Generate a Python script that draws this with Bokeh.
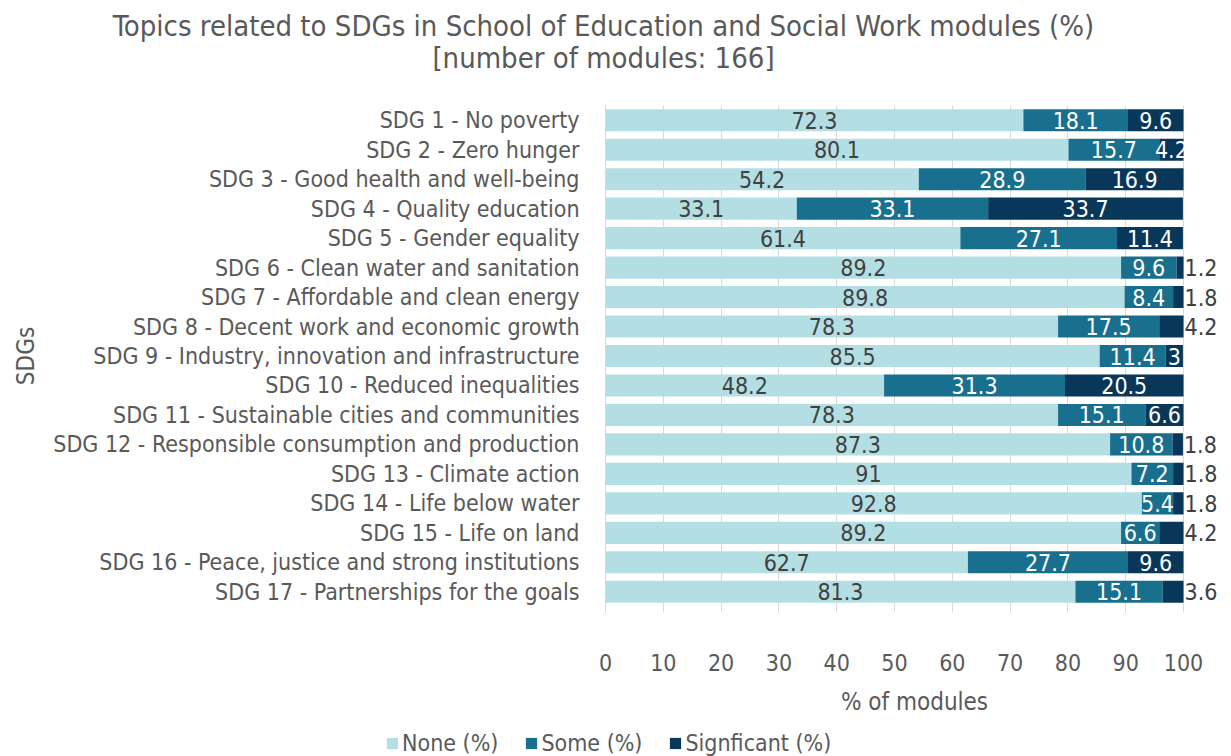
from bokeh.plotting import figure
from bokeh.layouts import column
from bokeh.models import (ColumnDataSource, FactorRange, Range1d, FixedTicker, Legend,
                          LegendItem)
from bokeh.core.properties import value
from bokeh.embed import file_html
from bokeh.resources import INLINE

categories = [
    "SDG 1 - No poverty",
    "SDG 2 - Zero hunger",
    "SDG 3 - Good health and well-being",
    "SDG 4 - Quality education",
    "SDG 5 - Gender equality",
    "SDG 6 - Clean water and sanitation",
    "SDG 7 - Affordable and clean energy",
    "SDG 8 - Decent work and economic growth",
    "SDG 9 - Industry, innovation and infrastructure",
    "SDG 10 - Reduced inequalities",
    "SDG 11 - Sustainable cities and communities",
    "SDG 12 - Responsible consumption and production",
    "SDG 13 - Climate action",
    "SDG 14 - Life below water",
    "SDG 15 - Life on land",
    "SDG 16 - Peace, justice and strong institutions",
    "SDG 17 - Partnerships for the goals",
]
none_pct = [72.3, 80.1, 54.2, 33.1, 61.4, 89.2, 89.8, 78.3, 85.5, 48.2, 78.3, 87.3, 91, 92.8, 89.2, 62.7, 81.3]
some_pct = [18.1, 15.7, 28.9, 33.1, 27.1, 9.6, 8.4, 17.5, 11.4, 31.3, 15.1, 10.8, 7.2, 5.4, 6.6, 27.7, 15.1]
sig_pct = [9.6, 4.2, 16.9, 33.7, 11.4, 1.2, 1.8, 4.2, 3, 20.5, 6.6, 1.8, 1.8, 1.8, 4.2, 9.6, 3.6]
sig_label_outside = [False, False, False, False, False, True, True, True, False, False,
                     False, True, True, True, True, False, True]
series_names = ["None (%)", "Some (%)", "Signficant (%)"]
x_ticks = [0, 10, 20, 30, 40, 50, 60, 70, 80, 90, 100]
title_lines = ["Topics related to SDGs in School of Education and Social Work modules (%)",
               "[number of modules: 166]"]

FONT = "DejaVu Sans Condensed, DejaVu Sans"
C_NONE = "#b3dfe4"
C_SOME = "#186f8e"
C_SIG = "#08375a"
DARK = "#404040"
GRAY = "#595959"

W, H = 1231, 756
TH = 80                                 # title strip height
LH = 32                                 # legend strip height
MH = H - TH - LH                        # main chart height
FL, FR, FT, FB = 605, 1223, 105, 606    # frame edges in page px
x_end = 100 * (FR - FL) / (1183 - FL)

def strip(height):
    f = figure(width=W, height=height, output_backend="svg", toolbar_location=None,
               x_range=Range1d(0, W), y_range=Range1d(height, 0),
               min_border_left=0, min_border_right=0, min_border_top=0, min_border_bottom=0)
    f.frame_align = False
    f.axis.visible = False
    f.grid.visible = False
    f.outline_line_color = None
    return f

# ---- title strip ----
tf = strip(TH)
tf.text(x=[603, 603], y=[25, 57], text=title_lines, text_align="center", text_baseline="middle",
        text_font=value(FONT), text_font_size="29px", text_color=GRAY)

# ---- main chart ----
p = figure(width=W, height=MH, output_backend="svg", toolbar_location=None,
           y_range=FactorRange(factors=list(reversed(categories))),
           x_range=Range1d(0, x_end),
           min_border_left=FL, min_border_right=W - FR,
           min_border_top=FT - TH, min_border_bottom=TH + MH - FB)
p.frame_align = False
p.outline_line_color = None
p.background_fill_color = "white"

n0 = [0.0] * len(categories)
n1 = list(none_pct)
s1 = [a + b for a, b in zip(none_pct, some_pct)]
g1 = [a + b for a, b in zip(s1, sig_pct)]

src = ColumnDataSource(dict(cat=categories, n0=n0, n1=n1, s1=s1, g1=g1))
h = 0.75
p.hbar(y="cat", left="n0", right="n1", height=h, source=src, fill_color=C_NONE, line_color=None)
p.hbar(y="cat", left="n1", right="s1", height=h, source=src, fill_color=C_SOME, line_color=None)
p.hbar(y="cat", left="s1", right="g1", height=h, source=src, fill_color=C_SIG, line_color=None)

def fmt(v):
    return f"{v:g}"

dark_src = ColumnDataSource(dict(
    x=[(a + b) / 2 for a, b in zip(n0, n1)], y=categories, t=[fmt(v) for v in none_pct]))
wx, wy, wt = [], [], []
for c, a, b, v in zip(categories, n1, s1, some_pct):
    wx.append((a + b) / 2); wy.append(c); wt.append(fmt(v))
ox, oy, ot = [], [], []
for c, a, b, v, out in zip(categories, s1, g1, sig_pct, sig_label_outside):
    if out:
        ox.append(b); oy.append(c); ot.append(fmt(v))
    else:
        wx.append((a + b) / 2); wy.append(c); wt.append(fmt(v))
white_src = ColumnDataSource(dict(x=wx, y=wy, t=wt))
out_src = ColumnDataSource(dict(x=ox, y=oy, t=ot))

LBL = "23px"
p.text(x="x", y="y", text="t", source=dark_src, text_align="center", text_baseline="middle",
       text_font=value(FONT), text_font_size=LBL, text_color=DARK)
p.text(x="x", y="y", text="t", source=white_src, text_align="center", text_baseline="middle",
       text_font=value(FONT), text_font_size=LBL, text_color="white")
p.text(x="x", y="y", text="t", source=out_src, text_align="left", text_baseline="middle",
       x_offset=1, text_font=value(FONT), text_font_size=LBL, text_color=DARK)

# axes
p.xaxis.ticker = FixedTicker(ticks=x_ticks)
p.xaxis.axis_line_color = None
p.xaxis.major_tick_line_color = "#d9d9d9"
p.xaxis.major_tick_out = 6
p.xaxis.major_tick_in = 0
p.xaxis.minor_tick_line_color = None
p.xaxis.major_label_standoff = 41
p.xaxis.major_label_text_font = FONT
p.xaxis.major_label_text_font_size = "23px"
p.xaxis.major_label_text_color = GRAY
p.xaxis.axis_label = "% of modules"
p.xaxis.axis_label_text_font = FONT
p.xaxis.axis_label_text_font_size = "24px"
p.xaxis.axis_label_text_font_style = "normal"
p.xaxis.axis_label_text_color = GRAY
p.xaxis.axis_label_standoff = 14

p.yaxis.axis_line_color = "#d9d9d9"
p.yaxis.major_tick_line_color = None
p.yaxis.minor_tick_line_color = None
p.yaxis.major_label_standoff = 20
p.yaxis.major_label_text_font = FONT
p.yaxis.major_label_text_font_size = "23px"
p.yaxis.major_label_text_color = GRAY
p.yaxis.axis_label = "SDGs"
p.yaxis.axis_label_text_font = FONT
p.yaxis.axis_label_text_font_size = "24px"
p.yaxis.axis_label_text_font_style = "normal"
p.yaxis.axis_label_text_color = GRAY
p.yaxis.axis_label_standoff = 10

p.xgrid.grid_line_color = "#d9d9d9"
p.ygrid.grid_line_color = None

# ---- legend strip ----
lf = strip(LH)
swatches = []
for col in [C_NONE, C_SOME, C_SIG]:
    # swatch renderer kept outside the visible strip; only its legend entry shows
    swatches.append(lf.rect(x=[-1000], y=[-1000], width=1, height=1, fill_color=col, line_color=None))
legend = Legend(items=[LegendItem(label=n, renderers=[r]) for n, r in zip(series_names, swatches)],
                orientation="horizontal", location=(385, 0),
                glyph_width=14, glyph_height=14, label_standoff=3, spacing=26,
                padding=0, margin=0, border_line_color=None, background_fill_alpha=0,
                label_text_font=FONT, label_text_font_size="23px", label_text_color=GRAY)
lf.add_layout(legend, "center")

layout = column(tf, p, lf, spacing=0)
open("out.html", "w").write(file_html(layout, INLINE))
